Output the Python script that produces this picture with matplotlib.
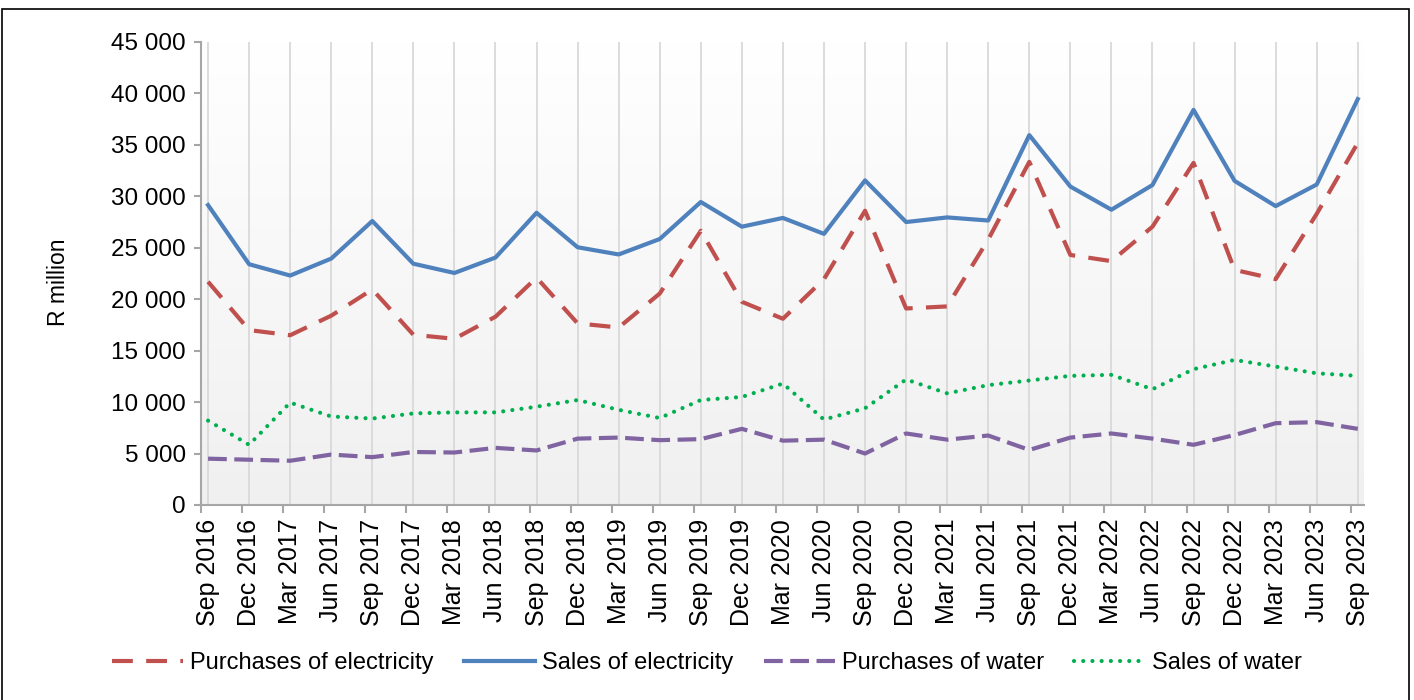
import numpy as np
import matplotlib.pyplot as plt
from matplotlib.colors import LinearSegmentedColormap
from matplotlib.ticker import FuncFormatter, FixedLocator
from matplotlib.patches import Rectangle

plt.rcParams['font.family'] = ['Liberation Sans', 'DejaVu Sans']

# Quarterly values, R million
quarters = ["Sep 2016", "Dec 2016", "Mar 2017", "Jun 2017", "Sep 2017", "Dec 2017",
            "Mar 2018", "Jun 2018", "Sep 2018", "Dec 2018", "Mar 2019", "Jun 2019",
            "Sep 2019", "Dec 2019", "Mar 2020", "Jun 2020", "Sep 2020", "Dec 2020",
            "Mar 2021", "Jun 2021", "Sep 2021", "Dec 2021", "Mar 2022", "Jun 2022",
            "Sep 2022", "Dec 2022", "Mar 2023", "Jun 2023", "Sep 2023"]

purchases_elec = [21700, 17000, 16500, 18400, 20950, 16550, 16150, 18300, 22100,
                  17650, 17250, 20550, 26650, 19750, 18100, 21950, 28600, 19100,
                  19300, 25800, 33350, 24300, 23700, 27050, 33250, 22850, 21950,
                  28300, 35200]
sales_elec = [29150, 23400, 22300, 23950, 27600, 23450, 22550, 24050, 28400,
              25050, 24350, 25850, 29450, 27050, 27900, 26350, 31550, 27500,
              27950, 27650, 35950, 30950, 28700, 31100, 38400, 31500, 29050,
              31150, 39450]
purchases_water = [4500, 4400, 4300, 4900, 4650, 5150, 5100, 5550, 5300, 6450,
                   6550, 6300, 6400, 7400, 6250, 6350, 5000, 6950, 6350, 6750,
                   5350, 6550, 6950, 6450, 5850, 6800, 7950, 8050, 7400]
sales_water = [8200, 5850, 9950, 8600, 8400, 8900, 9000, 9000, 9550, 10200,
               9250, 8450, 10200, 10500, 11800, 8300, 9400, 12200, 10850, 11650,
               12100, 12550, 12650, 11250, 13200, 14100, 13450, 12800, 12550]

x = np.arange(len(quarters))

fig = plt.figure(figsize=(14.14, 7.0), dpi=100)
ax = fig.add_axes([0.1422, 0.2786, 0.8224, 0.6614])

x_lo, x_hi = -0.17, 28.15
ax.set_xlim(x_lo, x_hi)
ax.set_ylim(0, 45000)

# plot area gradient (white at top, light grey at bottom)
cmap = LinearSegmentedColormap.from_list("bg", ["#f0f0f0", "#ffffff"])
grad = np.linspace(0, 1, 256).reshape(-1, 1)
ax.imshow(grad, extent=[x_lo, x_hi, 0, 45000], origin="lower", aspect="auto",
          cmap=cmap, zorder=0)

for xi in x:
    ax.axvline(xi, color="#d9d9d9", lw=1.3, zorder=1)

ax.plot(x, purchases_elec, color="#c0504d", lw=3, dashes=(5, 3.2),
        label="Purchases of electricity", zorder=3)
ax.plot(x, sales_elec, color="#4f81bd", lw=3, label="Sales of electricity", zorder=4)
ax.plot(x, purchases_water, color="#8064a2", lw=3, dashes=(4.5, 1.8),
        label="Purchases of water", zorder=3)
ax.plot(x, sales_water, color="#00b050", lw=3, dashes=(0.01, 2.2),
        dash_capstyle="round", label="Sales of water", zorder=3)

for s in ["top", "right"]:
    ax.spines[s].set_visible(False)
for s in ["left", "bottom"]:
    ax.spines[s].set_color("#a6a6a6")
    ax.spines[s].set_linewidth(1.5)

ax.set_yticks(np.arange(0, 45001, 5000))
ax.yaxis.set_major_formatter(FuncFormatter(lambda v, p: f"{v:,.0f}".replace(",", " ")))
ax.tick_params(axis="y", direction="out", length=5, width=1.5, color="#a6a6a6",
               labelsize=17.5, pad=6)

ax.set_xticks(x)
ax.set_xticklabels(quarters, rotation=90)
ax.tick_params(axis="x", which="major", length=0, labelsize=18, pad=10)
ax.xaxis.set_minor_locator(FixedLocator(x - 0.17))
ax.tick_params(axis="x", which="minor", direction="out", length=6, width=1.5,
               color="#a6a6a6")

ax.set_ylabel("R million", fontsize=16.5)
ax.yaxis.set_label_coords(-0.113, 0.48)

fig.legend(loc="center", bbox_to_anchor=(0.5, 0.053), ncol=4, frameon=False,
           fontsize=17, handlelength=3.0, handletextpad=0.3, columnspacing=1.3)

fig.patches.append(Rectangle((2 / 1414, -0.05), 1407 / 1414, 1.05 - 9 / 700,
                             transform=fig.transFigure, fill=False,
                             edgecolor="#000000", lw=1.2))

fig.savefig("out.png", dpi=100)
